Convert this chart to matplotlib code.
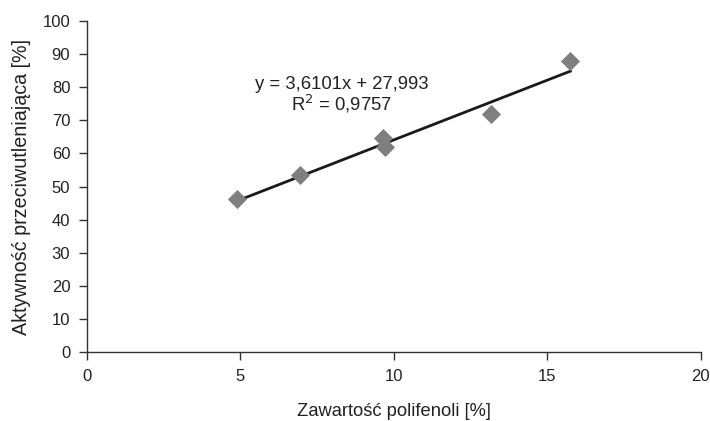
import numpy as np
import matplotlib.pyplot as plt

plt.rcParams['font.family'] = ['Liberation Sans', 'DejaVu Sans']

# data
polifenole = [4.9, 6.95, 9.65, 9.7, 13.15, 15.75]
aktywnosc = [46.2, 53.4, 64.8, 61.8, 71.8, 87.8]
slope, intercept = 3.6101, 27.993

fig = plt.figure(figsize=(7.1, 4.21), dpi=100)
ax = fig.add_axes([0.1225, 0.164, 0.8645, 0.786])

ax.scatter(polifenole, aktywnosc, marker='D', s=95, color='#7f7f7f', zorder=3, linewidths=0)
xl = np.array([min(polifenole), max(polifenole)])
ax.plot(xl, slope * xl + intercept, color='#1a1a1a', linewidth=2, zorder=2)

ax.text(8.3, 77.5, 'y = 3,6101x + 27,993\nR$^2$ = 0,9757', ha='center', va='center',
        fontsize=13.3, color='#222222', linespacing=1.0)

ax.set_xlim(0, 20)
ax.set_ylim(0, 100)
ax.set_xticks(range(0, 21, 5))
ax.set_yticks(range(0, 101, 10))
for s in ['top', 'right']:
    ax.spines[s].set_visible(False)
for s in ['left', 'bottom']:
    ax.spines[s].set_color('#333333')
    ax.spines[s].set_linewidth(1)
ax.tick_params(direction='out', length=6, width=1, color='#333333', labelsize=12,
               labelcolor='#222222', pad=6)
ax.set_xlabel('Zawartość polifenoli [%]', fontsize=13.2, color='#222222', labelpad=14)
ax.set_ylabel('Aktywność przeciwutleniająca [%]', fontsize=14.2, color='#222222', labelpad=8)

fig.savefig('out.png', dpi=100)
